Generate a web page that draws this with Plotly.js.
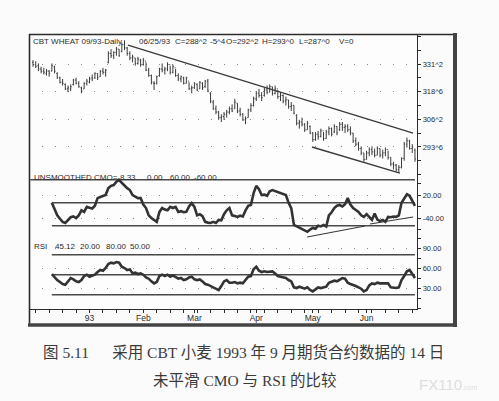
<!DOCTYPE html>
<html><head><meta charset="utf-8">
<script src="https://cdn.plot.ly/plotly-3.0.1.min.js"></script>
<style>html,body{margin:0;padding:0;background:#fbfbfb;}#chart{width:499px;height:401px;}</style>
</head><body><div id="chart"></div>
<script>
// ---- price bars (CBT Wheat 09/93, daily, Dec 1992 - 25 Jun 1993) ----
const openP = [
 332,331,330.5,329,328,327,328,328,330,327,
 325,323,322,320,320,322,324,322.5,320.5,320,
 322.5,323,325,325,327,325.5,328,327.5,332,336,
 335,336.5,338,337,340,338.5,336,334,334,331.5,
 333,331,332.5,328.5,326,322.5,322.5,326,329,328.5,
 329,331,327.5,329.5,326,324.5,325,322.5,323.5,320,
 320.5,322,320,322.5,321,323.5,318,314,311,309.5,
 307,307.5,308.5,309.5,311,311,313.5,310,308.5,306,
 307,310.5,312.5,315.5,318,317,317,319.5,318.5,321,
 318,320,316.5,317,314.5,315,312,312.5,308,304.5,
 305,304,301.5,303,300,297,299.5,298.5,301,297.5,
 300.5,302,300.5,303,301.5,304,302.5,303,301.5,300,
 296.5,295,293,291,288,291,292.5,291.5,290,293,
 290,291,292.5,289,286,285.5,283.5,284.5,288.5,295,
 296.5,293,292.25];
const highP = [
 333,332.5,331.5,330,329.5,329,328.5,331.5,330.5,327.5,
 325.5,324.5,322.5,321.5,322,324.5,325,323.5,321,323,
 324.5,325.5,326.5,327.5,327,328.5,329.5,329,337,338,
 337,339,338,341,342,339,337,335.5,334,334.5,
 333.5,334,332,329.5,326.5,323.5,326,329.5,331.5,330,
 332,330.5,331,329,327,326,325.5,325.5,323,321.5,
 323,322.5,323.5,323,324,324.5,318.5,315,312.5,310,
 308.5,309.5,310.5,312,313,315.5,313.5,311.5,309,307.5,
 311,313.5,316.5,319,320,318.5,320.5,321.5,322,321,
 321.5,319.5,318.5,317.5,316.5,315,314,312.5,308.5,306,
 307,304.5,305.5,303.5,300.5,300.5,301,302,300.5,301.5,
 303,302.5,304,303,305,305,304,304,303,300,
 298,296,294,291,292,293.5,294,293,294,293,
 292.5,293.5,292,289,287,286,285.5,289,296,298,
 297,295,293];
const lowP = [
 330,329.5,328,327,326.5,326,325.5,328,327,324.5,
 322.5,321.5,319.5,318.5,319,321.5,322,320.5,318,320,
 321.5,322.5,323.5,324.5,324,325.5,326.5,325.5,331.5,334,
 333.5,335,334.5,336.5,337.5,335,333,332,330.5,331,
 330,330.5,328,325.5,322,319.5,322,325.5,327.5,326.5,
 328,326.5,327,325.5,323.5,323,322,322.5,319.5,318,
 320,319,320,319.5,320.5,318.5,313.5,310.5,308.5,306,
 305,306,307,308.5,309.5,311,309,307.5,305.5,304,
 307,309.5,312,314.5,316,314.5,316.5,317.5,318.5,317,
 317.5,315.5,314.5,313.5,312.5,311,310,308.5,303.5,302,
 303,300.5,301.5,299.5,296,296.5,297,298,296.5,297.5,
 299,298.5,300,299,301,301,300,300.5,299,295.5,
 294,292,290,287,288,289.5,290,289,290,289,
 288.5,289.5,288,285,283.5,282.5,282,284,287.5,293.5,
 292.5,291,287];
const closeP = [
 331,330,329,328,327.5,328,327,330.5,328,325,
 323,322.5,320,320.5,321,324,322.5,321,319,322.5,
 323.5,324.5,324.5,327,325,328,327.5,328.5,336,335,
 336.5,338,335,340,338.5,336,334,334.5,331.5,333.5,
 331,333,328.5,326,323,322.5,325.5,329,328.5,329,
 331,327.5,330,326,324.5,325.5,322.5,325,320,320.5,
 322.5,319.5,323,320.5,323.5,319,314.5,311,309.5,307,
 307.5,308.5,309.5,311,310,314,310,308.5,306,306.5,
 310.5,312.5,315.5,318,317,316,319.5,318.5,321,318,
 320,316.5,317,314.5,315,312,312.5,309,304.5,305,
 304,301.5,304.5,300,297,299.5,298.5,301,297.5,300.5,
 302,299.5,303,300,304,302.5,303,301.5,300,296.5,
 295,293,291,288,291,292.5,291.5,290,293,290,
 291,292.5,289,286,285.5,283.5,284.5,288.5,295,296.5,
 293,293.75,288.25];

// ---- 14-day unsmoothed CMO and RSI (first value at bar index 7) ----
const indicatorStart = 7;
const cmo = [
 0,-15,-33,-42,-50,-53,-45,-38,-36,-40,
 -33,-20,-24,-11,-13,-15,-8,12,15,18,
 20,38,44,46,55,59,51,45,38,33,
 20,15,12,12,-5,-14,-33,-40,-45,-50,
 -24,-14,-18,-20,-11,-14,-11,-24,-22,-25,
 -24,-10,-1,-11,-33,-30,-35,-50,-52,-53,
 -50,-53,-45,-46,-30,-20,-14,-33,-35,-37,
 -34,-36,-20,-8,-6,25,44,35,20,21,
 18,30,33,30,28,26,22,20,0,-14,
 -58,-62,-64,-68,-72,-76,-70,-66,-68,-60,
 -62,-58,-62,-33,-25,-14,-8,-6,-10,-4,
 12,-5,-14,-20,-24,-33,-37,-30,-37,-45,
 -28,-44,-48,-45,-50,-37,-38,-36,-37,-33,
 0,10,22,18,5,-8.33];
const rsi = [
 51,46,42,39,36,35,40,45,43,40,
 39,42,48,50,47,49,50,54,57,56,
 60,66,68,67,69,68,62,60,57,58,
 52,53,51,52,50,46,44,40,37,39,
 48,50,48,50,47,49,46,44,45,42,
 43,46,47,43,42,43,40,36,35,33,
 30,28,27,33,40,42,38,38,39,37,
 38,37,42,47,48,58,62,56,54,55,
 54,55,55,52,48,47,46,45,42,40,
 31,30,32,30,29,31,27,25,28,31,
 30,31,32,38,39,41,40,43,45,44,
 38,36,35,33,31,29,25,27,34,37,
 36,38,37,37,38,37,31,30,30,31,
 42,48,55,57,50,45.12];
const cmoLevels = [60, 0, -60];
const rsiLevels = [80, 50, 20];

// ---- hand-drawn trend lines (bar index, value) ----
const priceUpperLine = {x: [35.3, 141.3], y: [339.8, 300.0]};
const priceLowerLine = {x: [103.7, 136.4], y: [293.7, 281.9]};
const cmoLine1 = {x: [101.9, 123.4], y: [-89.6, -60.8]};
const cmoLine2 = {x: [125.3, 141.3], y: [-55.6, -37.3]};

// ---- axis labels ----
const monthTickIdx = [21, 41, 60, 83, 104, 124];
const monthLabels = ['93', 'Feb', 'Mar', 'Apr', 'May', 'Jun'];
const priceTickVals = [293.75, 306.25, 318.75, 331.25];
const priceTickText = ['293^6', '306^2', '318^6', '331^2'];
const cmoTickVals = [20, -40];
const cmoTickText = ['20.00', '-40.00'];
const rsiTickVals = [30, 60, 90];
const rsiTickText = ['30.00', '60.00', '90.00'];

const headerTokens = ['CBT WHEAT 09/93-Daily', '06/25/93', 'C=288^2', '-5^4', 'O=292^2', 'H=293^0', 'L=287^0', 'V=0'];
const cmoTokens = ['UNSMOOTHED CMO=-8.33', '0.00', '60.00', '-60.00'];
const rsiTokens = ['RSI', '45.12', '20.00', '80.00', '50.00'];
const captionLine1 = '图 5.11\u3000\u2002采用 CBT 小麦 1993 年 9 月期货合约数据的 14 日';
const captionLine2 = '未平滑 CMO 与 RSI 的比较';

// ---- geometry ----
const W = 499, H = 401, L = 29, R = 417, T = 34, B = 309;
const px = v => (v - L) / (R - L);
const py = v => (B - v) / (B - T);

const days = closeP.map((_, i) => i);
const indX = cmo.map((_, k) => k + indicatorStart);
const lastDay = days[days.length - 1];

const ink = '#2c2c2c';
const barInk = '#3c3c3c';
const lineInk = '#3a3a3a';
const sans = 'Liberation Sans, Arial, sans-serif';

const traces = [];
traces.push({
  type: 'ohlc', x: days, open: openP, high: highP, low: lowP, close: closeP,
  xaxis: 'x', yaxis: 'y', tickwidth: 0.35,
  increasing: {line: {color: barInk, width: 1}},
  decreasing: {line: {color: barInk, width: 1}},
  hoverinfo: 'skip'
});
function seg(obj, yax, w) {
  traces.push({type: 'scatter', mode: 'lines', x: obj.x, y: obj.y, xaxis: 'x', yaxis: yax,
    line: {color: lineInk, width: w}, hoverinfo: 'skip'});
}
seg(priceUpperLine, 'y', 1.4);
seg(priceLowerLine, 'y', 1.4);
cmoLevels.forEach((lv, j) => {
  const x0 = j === 0 ? days[0] - 1 : indicatorStart;
  traces.push({type: 'scatter', mode: 'lines', x: [x0, lastDay], y: [lv, lv], xaxis: 'x', yaxis: 'y2',
    line: {color: '#4a4a4a', width: 1.4}, hoverinfo: 'skip'});
});
rsiLevels.forEach(lv => {
  traces.push({type: 'scatter', mode: 'lines', x: [indicatorStart, lastDay], y: [lv, lv], xaxis: 'x', yaxis: 'y3',
    line: {color: '#4a4a4a', width: 1.4}, hoverinfo: 'skip'});
});
traces.push({type: 'scatter', mode: 'lines', x: indX, y: cmo, xaxis: 'x', yaxis: 'y2',
  line: {color: '#333', width: 2.6}, hoverinfo: 'skip'});
traces.push({type: 'scatter', mode: 'lines', x: indX, y: rsi, xaxis: 'x', yaxis: 'y3',
  line: {color: '#333', width: 2.6}, hoverinfo: 'skip'});
seg(cmoLine1, 'y2', 1.2);
seg(cmoLine2, 'y2', 1.2);

const dotGrid = {showgrid: true, gridcolor: '#8a8a8a', gridwidth: 1, griddash: '1px,12px'};
const yCommon = Object.assign({
  side: 'right', anchor: 'x', showline: true, linecolor: ink, linewidth: 1.2,
  ticks: 'outside', ticklen: 3, tickcolor: ink, zeroline: false, fixedrange: true,
  tickmode: 'array', tickfont: {family: sans, size: 7.5, color: ink}
}, dotGrid);

const pxPerUnitPrice = 2.21;
const priceRange = [331.25 - (176 - 64) / pxPerUnitPrice, 331.25 + (64 - 34) / pxPerUnitPrice];
const cmoRange = [-(238 - 202.7) / 0.383, (202.7 - 176) / 0.383];
const rsiRange = [50 - (309 - 274.7) / 0.667, 50 + (274.7 - 238) / 0.667];

const annotations = [];
const labFont = {family: sans, size: 8, color: ink};
const headerX = [31, 137, 173, 208, 224, 260, 297, 337];
headerTokens.forEach((t, i) => annotations.push({text: t, x: px(headerX[i]), y: py(41), xref: 'paper', yref: 'paper',
  xanchor: 'left', yanchor: 'middle', showarrow: false, font: labFont}));
const cmoX = [32, 145, 168, 192];
cmoTokens.forEach((t, i) => annotations.push({text: t, x: px(cmoX[i]), y: py(177), xref: 'paper', yref: 'paper',
  xanchor: 'left', yanchor: 'middle', showarrow: false, font: labFont}));
const rsiX = [32, 53, 78, 104, 128];
rsiTokens.forEach((t, i) => annotations.push({text: t, x: px(rsiX[i]), y: py(246), xref: 'paper', yref: 'paper',
  xanchor: 'left', yanchor: 'middle', showarrow: false, font: labFont}));
const capFont = {family: 'Liberation Serif, Noto Sans CJK SC, serif', size: 15.5, color: '#3a3a3a'};
annotations.push({text: captionLine1, x: px(243), y: py(352), xref: 'paper', yref: 'paper', xanchor: 'center', yanchor: 'middle', showarrow: false, font: capFont});
annotations.push({text: captionLine2, x: px(244), y: py(380), xref: 'paper', yref: 'paper', xanchor: 'center', yanchor: 'middle', showarrow: false, font: capFont});
annotations.push({text: 'FX110<span style="font-size:7px">.com</span>', x: px(448), y: py(384), xref: 'paper', yref: 'paper', xanchor: 'center', yanchor: 'middle', showarrow: false,
  font: {family: sans, size: 15, color: '#dedede'}});

const frame = (x0, y0, x1, y1, w, c) => ({type: 'line', xref: 'paper', yref: 'paper', x0: px(x0), y0: py(y0), x1: px(x1), y1: py(y1), line: {color: c, width: w}});
const shapes = [
  frame(29, 34.5, 456, 34.5, 1.6, ink),
  frame(29.5, 34, 29.5, 326, 1.6, ink),
  frame(455, 33, 455, 327, 4, '#444'),
  frame(28, 325, 457, 325, 3.5, '#444')
];

const layout = {
  width: W, height: H,
  margin: {l: L, r: W - R, t: T, b: H - B, pad: 0},
  paper_bgcolor: '#fbfbfb', plot_bgcolor: '#fdfdfd',
  showlegend: false, hovermode: false,
  xaxis: {
    domain: [0, 1], anchor: 'y3', range: [-1.5, 142.75], rangeslider: {visible: false},
    showline: true, linecolor: ink, linewidth: 1.2, mirror: false, zeroline: false, showgrid: false,
    tickmode: 'array', tickvals: monthTickIdx, ticktext: monthLabels, ticks: 'outside', ticklen: 3, tickcolor: ink,
    ticklabelstandoff: -2,
    tickfont: {family: sans, size: 8.5, color: ink},
    minor: {tick0: 1, dtick: 5, ticks: 'outside', ticklen: 3, tickcolor: ink, showgrid: false}
  },
  yaxis: Object.assign({}, yCommon, {domain: [py(176), 1], range: priceRange,
    tickvals: priceTickVals, ticktext: priceTickText,
    minor: {tick0: 293.75, dtick: 6.25, ticks: 'outside', ticklen: 3, tickcolor: ink, showgrid: false}}),
  yaxis2: Object.assign({}, yCommon, {domain: [py(238), py(176)], range: cmoRange,
    tickvals: cmoTickVals, ticktext: cmoTickText,
    minor: {tick0: -40, dtick: 30, ticks: 'outside', ticklen: 3, tickcolor: ink, showgrid: false}}),
  yaxis3: Object.assign({}, yCommon, {domain: [0, py(238)], range: rsiRange,
    tickvals: rsiTickVals, ticktext: rsiTickText,
    minor: {tick0: 0, dtick: 15, ticks: 'outside', ticklen: 3, tickcolor: ink, showgrid: false}}),
  annotations: annotations,
  shapes: shapes
};

Plotly.newPlot('chart', traces, layout, {staticPlot: true, displayModeBar: false});
</script></body></html>
